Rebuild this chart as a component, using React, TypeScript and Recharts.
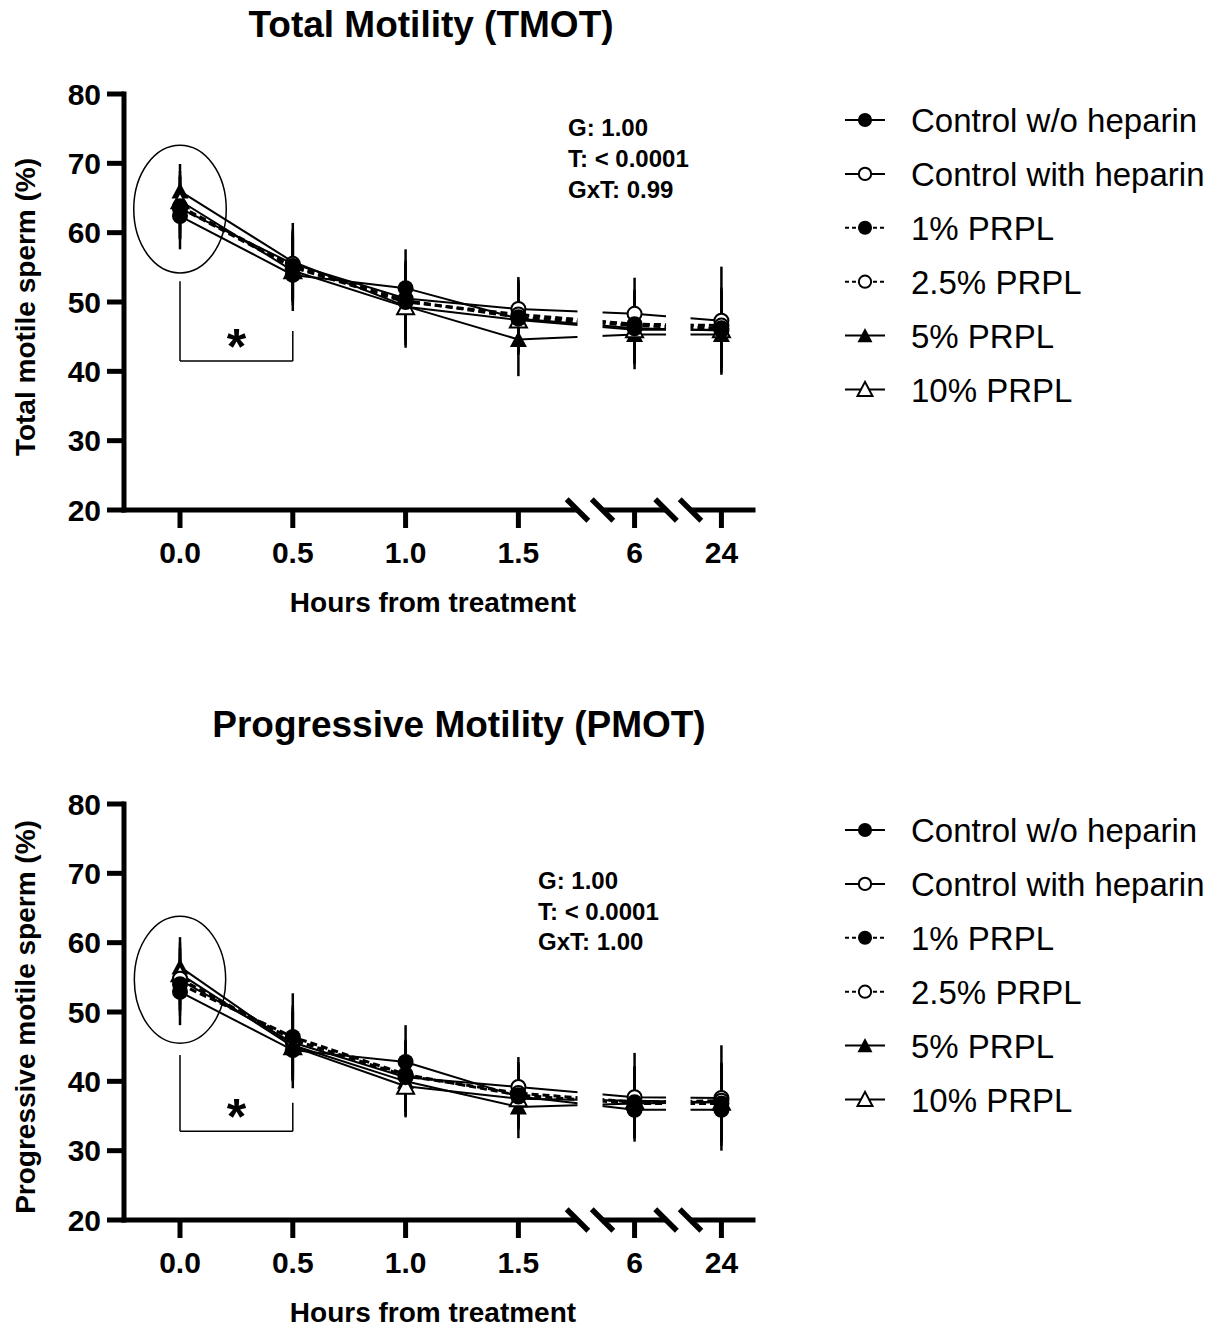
import React from 'react';
import {
  LineChart,
  Line,
  XAxis,
  YAxis,
  ErrorBar,
  ReferenceArea,
  ReferenceLine,
  ReferenceDot,
  Legend,
} from 'recharts';

const FONT = '"Liberation Sans", Arial, Helvetica, sans-serif';

// ---------- categories / ticks ----------
const hours = ['0.0', '0.5', '1.0', '1.5', '6', '24'];
// position of each time point on the broken x axis
const hourPos = [0, 1, 2, 3, 4.03, 4.8];
const yTicks = [20, 30, 40, 50, 60, 70, 80];
const xDomain = [-0.4965, 5.08];
// axis breaks (start, end) on the x axis, in axis units
const axisBreaks = [
  [3.524, 3.746],
  [4.309, 4.526],
];

const seriesNames = [
  'Control w/o heparin',
  'Control with heparin',
  '1% PRPL',
  '2.5% PRPL',
  '5% PRPL',
  '10% PRPL',
];
const seriesKeys = ['cw', 'ch', 'p1', 'p25', 'p5', 'p10'];
const seriesMarkers = ['circleFilled', 'circleOpen', 'circleFilled', 'circleOpen', 'triangleFilled', 'triangleOpen'];
const seriesDashed = [false, false, true, true, false, false];
const drawOrder = [4, 5, 1, 3, 2, 0];

// ---------- Total motility (TMOT) ----------
const tmotControlWo = [62.4, 53.9, 52.0, 47.6, 46.2, 45.9];
const tmotControlWith = [63.5, 55.5, 50.5, 49.0, 48.3, 47.3];
const tmot1 = [63.8, 55.2, 50.2, 47.8, 46.6, 46.2];
const tmot25 = [63.6, 55.0, 50.0, 48.2, 46.8, 46.6];
const tmot5 = [66.0, 55.8, 49.4, 44.6, 45.3, 45.3];
const tmot10 = [64.6, 54.5, 49.3, 47.4, 46.0, 46.0];

const tmotControlWoErr = [4.8, 5.2, 5.6, 5.0, 5.0, 5.5];
const tmotControlWithErr = [4.5, 5.0, 5.5, 4.6, 5.2, 7.8];
const tmot1Err = [4.5, 5.0, 5.5, 5.0, 5.0, 5.5];
const tmot25Err = [4.5, 5.0, 5.5, 5.0, 5.0, 5.5];
const tmot5Err = [3.9, 5.6, 6.0, 5.3, 5.0, 5.5];
const tmot10Err = [4.3, 5.0, 5.5, 5.0, 5.0, 5.5];

const tmotStats = ['G: 1.00', 'T: < 0.0001', 'GxT: 0.99'];

// ---------- Progressive motility (PMOT) ----------
const pmotControlWo = [52.9, 44.5, 42.8, 37.8, 35.9, 35.9];
const pmotControlWith = [54.6, 45.6, 40.6, 39.2, 37.7, 37.6];
const pmot1 = [54.0, 46.4, 41.0, 38.0, 36.8, 36.8];
const pmot25 = [54.8, 46.0, 40.8, 38.3, 37.0, 37.2];
const pmot5 = [56.5, 45.2, 40.0, 36.3, 36.8, 37.0];
const pmot10 = [55.5, 45.0, 39.3, 37.5, 37.2, 37.0];

const pmotControlWoErr = [4.8, 5.5, 5.3, 4.5, 4.1, 5.2];
const pmotControlWithErr = [4.5, 5.0, 5.0, 4.3, 6.4, 7.6];
const pmot1Err = [4.5, 6.3, 5.0, 4.5, 5.0, 5.5];
const pmot25Err = [4.5, 5.0, 5.0, 4.5, 5.0, 5.5];
const pmot5Err = [4.3, 5.0, 5.0, 4.5, 5.0, 5.5];
const pmot10Err = [4.5, 5.0, 4.5, 4.5, 5.0, 5.5];

const pmotStats = ['G: 1.00', 'T: < 0.0001', 'GxT: 1.00'];

// ---------- annotations (axis units) ----------
// ellipse around baseline: [x1, x2, y1, y2]
const tmotEllipse = [-0.41, 0.41, 54.2, 72.6];
const pmotEllipse = [-0.405, 0.405, 45.5, 63.8];
// significance bracket
const tmotBracket = { leftTop: 53.0, rightTop: 45.8, bottom: 41.5, star: 45.2 };
const pmotBracket = { leftTop: 43.8, rightTop: 36.9, bottom: 32.8, star: 36.6 };

function buildRows(values: number[][], errs: number[][]) {
  return hours.map((h, i) => {
    const row: any = { x: hourPos[i], hour: h };
    seriesKeys.forEach((k, s) => {
      row[k] = values[s][i];
      row[k + 'Err'] = errs[s][i];
    });
    return row;
  });
}

const tmotData = buildRows(
  [tmotControlWo, tmotControlWith, tmot1, tmot25, tmot5, tmot10],
  [tmotControlWoErr, tmotControlWithErr, tmot1Err, tmot25Err, tmot5Err, tmot10Err]
);
const pmotData = buildRows(
  [pmotControlWo, pmotControlWith, pmot1, pmot25, pmot5, pmot10],
  [pmotControlWoErr, pmotControlWithErr, pmot1Err, pmot25Err, pmot5Err, pmot10Err]
);

function Marker({ kind, cx, cy, size = 1 }: { kind: string; cx: number; cy: number; size?: number }) {
  if (cx == null || cy == null) return null;
  if (kind === 'circleFilled') return <circle cx={cx} cy={cy} r={8 * size} fill="#000" />;
  if (kind === 'circleOpen')
    return <circle cx={cx} cy={cy} r={7 * size} fill="#fff" stroke="#000" strokeWidth={2} />;
  const h = 15 * size;
  const w = 17 * size;
  const pts = `${cx},${cy - h / 2 - 1} ${cx - w / 2},${cy + h / 2} ${cx + w / 2},${cy + h / 2}`;
  if (kind === 'triangleFilled') return <polygon points={pts} fill="#000" />;
  return <polygon points={pts} fill="#fff" stroke="#000" strokeWidth={2} />;
}

const BreakShape = (p: any) => {
  const { x, y, width, height } = p;
  const b = y + height;
  const d = 10.8;
  return (
    <g>
      <rect x={x} y={y - 4} width={width} height={height + 8} fill="#fff" />
      <line x1={x - d} y1={b - d} x2={x + d} y2={b + d} stroke="#000" strokeWidth={5.5} />
      <line x1={x + width - d} y1={b - d} x2={x + width + d} y2={b + d} stroke="#000" strokeWidth={5.5} />
    </g>
  );
};

const EllipseShape = (p: any) => (
  <ellipse
    cx={p.x + p.width / 2}
    cy={p.y + p.height / 2}
    rx={Math.abs(p.width) / 2}
    ry={Math.abs(p.height) / 2}
    fill="none"
    stroke="#000"
    strokeWidth={1.5}
  />
);

const StarShape = (p: any) => (
  <text
    x={p.cx}
    y={p.cy + 29}
    textAnchor="middle"
    fontSize={50}
    fontWeight={700}
    fontFamily={FONT}
    fill="#000"
  >
    *
  </text>
);

const LegendContent = () => (
  <svg width={386} height={340} style={{ display: 'block', overflow: 'visible' }}>
    {seriesNames.map((name, i) => {
      const cy = 30 + i * 53.9;
      return (
        <g key={name}>
          <line
            x1={15}
            x2={55}
            y1={cy}
            y2={cy}
            stroke="#000"
            strokeWidth={2}
            strokeDasharray={seriesDashed[i] ? '4 3' : undefined}
          />
          <Marker kind={seriesMarkers[i]} cx={35} cy={cy} size={0.88} />
          <text x={81} y={cy + 12} fontSize={33} fontFamily={FONT} fill="#000">
            {name}
          </text>
        </g>
      );
    })}
  </svg>
);

const hourLabel = (v: number) => {
  const i = hourPos.indexOf(v);
  return i >= 0 ? hours[i] : '';
};

type PanelProps = {
  data: any[];
  title: string;
  titleX: number;
  titleY: number;
  yLabel: string;
  stats: string[];
  statsX: number;
  statsY: number[];
  ellipse: number[];
  bracket: { leftTop: number; rightTop: number; bottom: number; star: number };
};

const OV = 40; // overlay svg extends this far above the panel

function Panel({ data, title, titleX, titleY, yLabel, stats, statsX, statsY, ellipse, bracket }: PanelProps) {
  const axisStroke = { stroke: '#000', strokeWidth: 5, strokeLinecap: 'square' as const };
  const tickStyle = { fill: '#000', fontSize: 30, fontWeight: 700, fontFamily: FONT };
  return (
    <div style={{ position: 'relative', width: 1216, height: 617 }}>
      <LineChart
        width={1216}
        height={617}
        data={data}
        margin={{ top: 94, right: 463, bottom: 47, left: 0 }}
      >
        <XAxis
          type="number"
          dataKey="x"
          domain={xDomain}
          allowDataOverflow
          ticks={hourPos}
          interval={0}
          tickFormatter={hourLabel}
          tickSize={18}
          tickMargin={14}
          height={60}
          axisLine={axisStroke}
          tickLine={{ stroke: '#000', strokeWidth: 5 }}
          tick={tickStyle}
        />
        <YAxis
          type="number"
          domain={[20, 80]}
          ticks={yTicks}
          interval={0}
          width={124}
          tickSize={17}
          tickMargin={6}
          axisLine={axisStroke}
          tickLine={{ stroke: '#000', strokeWidth: 5 }}
          tick={tickStyle}
        />
        {drawOrder.map((s) => {
          const k = seriesKeys[s];
          return (
            <Line
              key={k}
              name={seriesNames[s]}
              dataKey={k}
              type="linear"
              stroke="#000"
              strokeWidth={seriesDashed[s] ? 3 : 2}
              strokeDasharray={seriesDashed[s] ? '7 4' : undefined}
              isAnimationActive={false}
              activeDot={false}
              dot={(p: any) => <Marker key={`${k}-${p.index}`} kind={seriesMarkers[s]} cx={p.cx} cy={p.cy} />}
            >
              <ErrorBar dataKey={k + 'Err'} width={0} stroke="#000" strokeWidth={2.5} direction="y" />
            </Line>
          );
        })}
        <ReferenceArea
          x1={ellipse[0]}
          x2={ellipse[1]}
          y1={ellipse[2]}
          y2={ellipse[3]}
          ifOverflow="visible"
          shape={EllipseShape}
        />
        <ReferenceLine
          segment={[
            { x: hourPos[0], y: bracket.leftTop },
            { x: hourPos[0], y: bracket.bottom },
          ]}
          stroke="#000"
          strokeWidth={1.5}
          ifOverflow="visible"
        />
        <ReferenceLine
          segment={[
            { x: hourPos[0], y: bracket.bottom },
            { x: hourPos[1], y: bracket.bottom },
          ]}
          stroke="#000"
          strokeWidth={1.5}
          ifOverflow="visible"
        />
        <ReferenceLine
          segment={[
            { x: hourPos[1], y: bracket.rightTop },
            { x: hourPos[1], y: bracket.bottom },
          ]}
          stroke="#000"
          strokeWidth={1.5}
          ifOverflow="visible"
        />
        <ReferenceDot
          x={(hourPos[0] + hourPos[1]) / 2}
          y={bracket.star}
          r={0}
          ifOverflow="visible"
          shape={StarShape}
        />
        {axisBreaks.map((b, i) => (
          <ReferenceArea
            key={`brk-${i}`}
            x1={b[0]}
            x2={b[1]}
            y1={20}
            y2={80}
            ifOverflow="visible"
            zIndex={1500}
            shape={BreakShape}
          />
        ))}
        <Legend
          layout="vertical"
          align="center"
          verticalAlign="middle"
          wrapperStyle={{ left: 830, top: 90, width: 386, height: 340 }}
          content={LegendContent}
        />
      </LineChart>
      <svg
        width={1216}
        height={617 + OV}
        style={{ position: 'absolute', left: 0, top: -OV, pointerEvents: 'none' }}
      >
        <text
          x={titleX}
          y={titleY + OV}
          textAnchor="middle"
          fontSize={37}
          fontWeight={700}
          fontFamily={FONT}
          fill="#000"
        >
          {title}
        </text>
        <text
          x={35}
          y={307 + OV}
          transform={`rotate(-90 35 ${307 + OV})`}
          textAnchor="middle"
          fontSize={28}
          fontWeight={700}
          fontFamily={FONT}
          fill="#000"
        >
          {yLabel}
        </text>
        <text x={433} y={612 + OV} textAnchor="middle" fontSize={28} fontWeight={700} fontFamily={FONT} fill="#000">
          Hours from treatment
        </text>
        {stats.map((s, i) => (
          <text key={s} x={statsX} y={statsY[i] + OV} fontSize={24} fontWeight={700} fontFamily={FONT} fill="#000">
            {s}
          </text>
        ))}
      </svg>
    </div>
  );
}

export default function App() {
  return (
    <div
      style={{
        position: 'absolute',
        left: 0,
        top: 0,
        width: 1216,
        height: 1327,
        background: '#fff',
        overflow: 'hidden',
      }}
    >
      <div style={{ position: 'absolute', left: 0, top: 0 }}>
        <Panel
          data={tmotData}
          title="Total Motility (TMOT)"
          titleX={431}
          titleY={37}
          yLabel="Total motile sperm (%)"
          stats={tmotStats}
          statsX={568}
          statsY={[136, 167, 198]}
          ellipse={tmotEllipse}
          bracket={tmotBracket}
        />
      </div>
      <div style={{ position: 'absolute', left: 0, top: 710 }}>
        <Panel
          data={pmotData}
          title="Progressive Motility (PMOT)"
          titleX={459}
          titleY={27}
          yLabel="Progressive motile sperm (%)"
          stats={pmotStats}
          statsX={538}
          statsY={[179, 210, 240]}
          ellipse={pmotEllipse}
          bracket={pmotBracket}
        />
      </div>
    </div>
  );
}
